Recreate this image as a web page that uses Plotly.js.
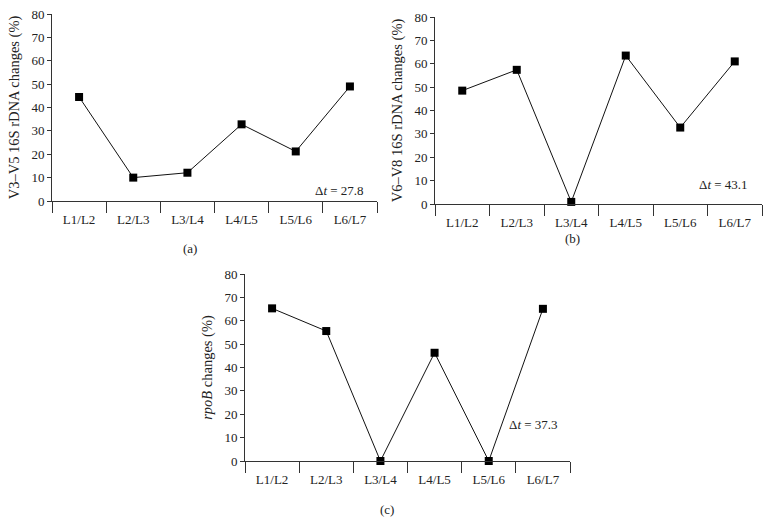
<!DOCTYPE html>
<html><head><meta charset="utf-8">
<script src="https://cdn.plot.ly/plotly-3.0.1.min.js"></script>
<style>html,body{margin:0;padding:0;background:#fff}</style>
</head><body><div id="chart" style="width:771px;height:523px"></div>
<script>
const categories = ["L1/L2","L2/L3","L3/L4","L4/L5","L5/L6","L6/L7"];
const v3v5 = [44.5, 10, 12.1, 32.8, 21.2, 49];
const v6v8 = [48.5, 57.4, 0.9, 63.5, 32.7, 61];
const rpoB = [65.3, 55.6, 0, 46.3, 0, 65.1];
const yTicks = [0,10,20,30,40,50,60,70,80];
const yTitles = ["V3–V5 16S rDNA changes (%)", "V6–V8 16S rDNA changes (%)", "<i>rpoB</i> changes (%)"];
const deltaT = ["27.8", "43.1", "37.3"];
const panelLabels = ["(a)", "(b)", "(c)"];

const W = 771, H = 523;
const font = {family: "Liberation Serif, Times New Roman, serif", size: 13, color: "#222"};
const titleFont = {family: "Liberation Serif, Times New Roman, serif", size: 14.5, color: "#222"};
const series = [v3v5, v6v8, rpoB];
// pixel geometry of the plot areas
const boxes = [
  {l: 52, r: 377, t: 14, b: 201},
  {l: 435, r: 762, t: 17, b: 204},
  {l: 245, r: 570, t: 274, b: 461}
];
const deltaPos = [[339,190],[723,185],[533,424]];
const labelPos = [[190,248],[572,239],[387,509]];

const traces = [];
const layout = {
  width: W, height: H, margin: {l:0,r:0,t:0,b:0},
  paper_bgcolor: "#fff", plot_bgcolor: "#fff",
  showlegend: false, font: font, annotations: []
};
series.forEach((vals, i) => {
  const s = i === 0 ? "" : String(i+1);
  traces.push({
    x: categories, y: vals, type: "scatter", mode: "lines+markers",
    xaxis: "x"+s, yaxis: "y"+s,
    line: {color: "#111", width: 1},
    marker: {symbol: "square", size: 8, color: "#000"},
    cliponaxis: false
  });
  const b = boxes[i];
  layout["xaxis"+s] = {
    domain: [b.l/W, b.r/W], anchor: "y"+s,
    type: "category", range: [-0.5, 5.5],
    showline: true, linecolor: "#333", linewidth: 1,
    ticks: "outside", tickson: "boundaries", ticklen: 11, tickcolor: "#333",
    ticklabelstandoff: 6,
    showgrid: false, zeroline: false, tickfont: font, fixedrange: true
  };
  layout["yaxis"+s] = {
    domain: [1 - b.b/H, 1 - b.t/H], anchor: "x"+s,
    range: [0, 80], tickvals: yTicks,
    showline: true, linecolor: "#333", linewidth: 1,
    ticks: "outside", ticklen: 4, tickcolor: "#333",
    showgrid: false, zeroline: false, tickfont: font,
    title: {text: yTitles[i], font: titleFont, standoff: 8}
  };
  layout.annotations.push({
    xref: "paper", yref: "paper", x: deltaPos[i][0]/W, y: 1 - deltaPos[i][1]/H,
    text: "Δ<i>t</i> = " + deltaT[i], showarrow: false, font: font,
    xanchor: "center", yanchor: "middle"
  });
  layout.annotations.push({
    xref: "paper", yref: "paper", x: labelPos[i][0]/W, y: 1 - labelPos[i][1]/H,
    text: panelLabels[i], showarrow: false, font: font,
    xanchor: "center", yanchor: "middle"
  });
});
Plotly.newPlot("chart", traces, layout, {displayModeBar: false, staticPlot: true});
</script></body></html>
